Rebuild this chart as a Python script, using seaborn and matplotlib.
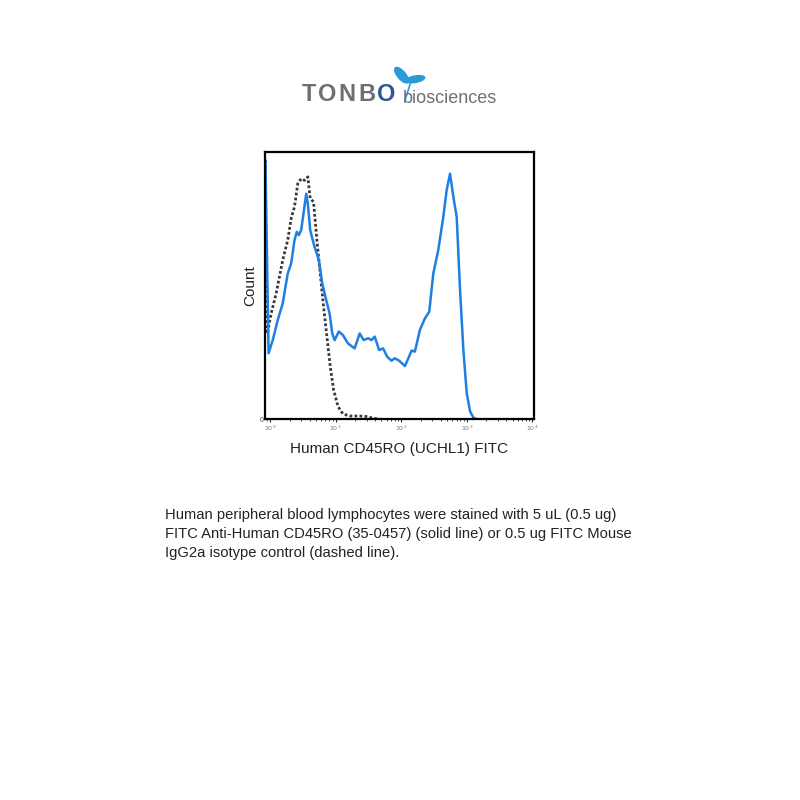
import matplotlib
matplotlib.use("Agg")
import matplotlib.pyplot as plt
import seaborn as sns
import pandas as pd
from matplotlib.patches import Ellipse
from matplotlib.ticker import LogLocator, NullFormatter

sns.set_theme(style="white")
plt.rcParams['font.family'] = ['Liberation Sans', 'DejaVu Sans']

# CD45RO-FITC (solid line): intensity and relative count
cd45ro_x = [0.85, 0.95, 1.10, 1.31, 1.56, 1.86, 2.10, 2.36, 2.56, 2.75, 2.98, 3.24,
            3.56, 3.77, 4.10, 4.77, 5.56, 6.25, 7.19, 8.09, 8.89, 9.66, 11.2, 12.9,
            15.4, 19.5, 23.3, 26.8, 31.3, 35.2, 39.5, 46.0, 53.0, 61.1, 71.1, 80.0,
            93.2, 114, 132, 144, 162, 193, 230, 268, 309, 368, 439, 494, 556, 625,
            703, 791, 889, 1000, 1125, 1265, 1423, 10500]
cd45ro_y = [96.9, 24.7, 29.6, 37.1, 43.3, 54.5, 58.3, 67.0, 70.1, 68.9, 70.7, 77.0,
            84.4, 80.7, 70.7, 64.5, 59.5, 50.8, 44.6, 39.6, 32.1, 29.6, 32.8, 31.5,
            28.4, 26.5, 32.1, 29.6, 30.3, 29.6, 30.9, 25.9, 26.5, 23.4, 21.9, 22.8,
            21.9, 19.9, 23.4, 25.7, 25.3, 33.4, 37.7, 40.2, 54.5, 63.3, 75.7, 85.7,
            91.9, 83.2, 75.7, 48.3, 25.9, 9.7, 2.9, 0.6, 0.0, 0.0]

# Mouse IgG2a isotype control (dashed line)
iso_x = [0.85, 0.86, 0.92, 1.04, 1.24, 1.56, 1.86, 2.10, 2.36, 2.65, 2.98, 3.35,
         3.77, 4.10, 4.61, 5.18, 5.83, 6.55, 7.37, 8.29, 9.32, 10.9, 12.9, 16.4,
         23.3, 29.5, 37.3, 47.2]
iso_y = [96.9, 32.1, 32.8, 39.6, 47.1, 59.5, 67.0, 75.1, 79.5, 88.2, 90.0, 89.4,
         90.7, 82.6, 81.3, 67.0, 54.5, 42.1, 30.9, 19.7, 11.0, 4.7, 2.0, 1.2,
         1.2, 1.0, 0.4, 0.0]

logo_letters = ['T', 'O', 'N', 'B', 'O']
logo_colors = ['#6d6f72', '#6d6f72', '#6d6f72', '#6d6f72', '#2b5797']

iso = pd.DataFrame({'x': iso_x, 'y': iso_y})
cd = pd.DataFrame({'x': cd45ro_x, 'y': cd45ro_y})

fig = plt.figure(figsize=(8, 8), dpi=100)
ax = fig.add_axes([0.331, 0.476, 0.336, 0.334])

sns.lineplot(data=iso, x='x', y='y', ax=ax, color='#3a3a3a', lw=2.0,
             linestyle=(0, (1, 0.8)), sort=False)
sns.lineplot(data=cd, x='x', y='y', ax=ax, color='#1f7fe0', lw=1.8, sort=False)

ax.set_xscale('log')
ax.set_xlim(10 ** -0.08, 10 ** 4.02)
ax.set_ylim(0, 100)
ax.set_xticks([1, 10, 100, 1000, 10000])
ax.set_xticklabels(['$10^0$', '$10^1$', '$10^2$', '$10^3$', '$10^4$'])
ax.xaxis.set_minor_locator(LogLocator(base=10, subs=range(2, 10)))
ax.xaxis.set_minor_formatter(NullFormatter())
ax.set_yticks([0])
ax.set_yticklabels(['0'])
ax.tick_params(axis='x', which='major', labelsize=4.5, labelcolor='#777777',
               length=2.5, width=0.8, direction='out', bottom=True, pad=1)
ax.tick_params(axis='x', which='minor', length=1.5, width=0.6, direction='out', bottom=True)
ax.tick_params(axis='y', labelsize=5, labelcolor='#555555', length=0, pad=1)
for s in ax.spines.values():
    s.set_color('black')
    s.set_linewidth(1.6)
ax.grid(False)
ax.set_xlabel('Human CD45RO (UCHL1) FITC', fontsize=11, color='#222222', labelpad=6)
ax.set_ylabel('Count', fontsize=11, color='#222222', labelpad=2)

# logo: spaced bold letters, then "biosciences" and a small dragonfly
renderer = fig.canvas.get_renderer()
x = 0.3775
for ch, c in zip(logo_letters, logo_colors):
    t = fig.text(x, 0.8735, ch, fontsize=17, fontweight='bold', color=c,
                 ha='left', va='baseline')
    bb = t.get_window_extent(renderer)
    x = bb.x1 / 800 + 0.0025
fig.text(0.503, 0.871, 'biosciences', fontsize=13, color='#6d6f72', ha='left', va='baseline')
for cx, cy, w, h, ang in [(0.502, 0.906, 0.024, 0.010, -50), (0.519, 0.901, 0.024, 0.008, 10)]:
    fig.patches.append(Ellipse((cx, cy), w, h, angle=ang, transform=fig.transFigure,
                               color='#2a9ad8', zorder=5))
fig.lines.append(plt.Line2D([0.506, 0.5135], [0.874, 0.8975], transform=fig.transFigure,
                            color='#2a9ad8', lw=1.2))

caption = ("Human peripheral blood lymphocytes were stained with 5 uL (0.5 ug)\n"
           "FITC Anti-Human CD45RO (35-0457) (solid line) or 0.5 ug FITC Mouse\n"
           "IgG2a isotype control (dashed line).")
fig.text(0.206, 0.3645, caption, fontsize=10.6, color='#222222', ha='left', va='top',
         linespacing=1.42)

plt.savefig('out.png', dpi=100)
plt.close()
